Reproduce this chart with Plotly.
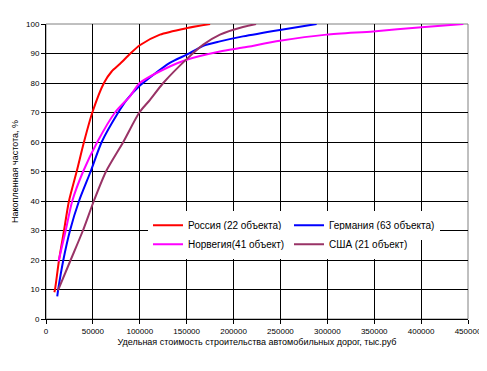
import plotly.graph_objects as go

names = ["Россия (22 объекта)", "Германия (63 объекта)", "Норвегия(41 объект)", "США (21 объект)"]
colors = ["#FF0000", "#0000FF", "#FF00FF", "#993366"]
legend_ids = ["legend", "legend2", "legend3", "legend4"]

russia_x = [8900, 9600, 13900, 19200, 24500, 32700, 40500, 49400, 61800, 70000, 79000, 90000, 100000, 121500, 150000, 175000]
russia_y = [9.1, 10, 20, 30, 40, 50, 60, 70, 80, 83.9, 86.5, 90, 92.8, 96.4, 98.6, 100]

germany_x = [12000, 13000, 18500, 25600, 35200, 47600, 59400, 77000, 86000, 98000, 132000, 150000, 167700, 185500, 210000, 249400, 288600]
germany_y = [7.7, 10, 20, 30, 40, 50, 60, 70, 74.3, 78.5, 86.8, 89.6, 92.6, 94.1, 95.8, 98, 100]

norway_x = [13300, 21000, 28000, 39600, 54700, 73600, 89500, 100000, 132000, 150000, 185500, 210000, 249400, 299000, 348900, 400500, 445000]
norway_y = [19.5, 30, 40, 50, 60, 70, 75.5, 80, 85.6, 87.9, 90.7, 92, 94.3, 96.4, 97.5, 98.9, 100]

usa_x = [12800, 26300, 39400, 51000, 64000, 82400, 99500, 110900, 125000, 150000, 167700, 185500, 210000, 224000]
usa_y = [9.7, 20, 30, 40, 50, 60, 70, 74.3, 80, 88.1, 93, 96.4, 99, 100]

x_ticks = [0, 50000, 100000, 150000, 200000, 250000, 300000, 350000, 400000, 450000]
y_ticks = [0, 10, 20, 30, 40, 50, 60, 70, 80, 90, 100]

series = [(russia_x, russia_y), (germany_x, germany_y), (norway_x, norway_y), (usa_x, usa_y)]

fig = go.Figure()
for (xs, ys), n, c, lg in zip(series, names, colors, legend_ids):
    fig.add_trace(go.Scatter(x=xs, y=ys, mode="lines", name=n, legend=lg,
                             line=dict(color=c, width=2, shape="spline", smoothing=0.7)))

fam = "Liberation Sans, Arial, sans-serif"
plot_h = 295.3
bottom = 311.3
plot_w = 422.0
left = 38.0


def leg(left_px, top_px):
    return dict(orientation="h", x=(left_px - left) / plot_w, xanchor="left",
                y=(bottom - top_px) / plot_h, yanchor="top",
                bgcolor="white", borderwidth=0,
                font=dict(family=fam, size=10, color="black"))


fig.update_layout(
    width=479, height=363,
    margin=dict(l=38, r=19, t=16, b=52, autoexpand=False),
    paper_bgcolor="white", plot_bgcolor="white",
    font=dict(family=fam, size=8, color="black"),
    showlegend=True,
    legend=leg(140, 203),
    legend2=leg(281, 203),
    legend3=leg(140, 222),
    legend4=leg(281, 222),
    xaxis=dict(range=[0, 450000], tickvals=x_ticks, ticktext=[str(v) for v in x_ticks],
               showgrid=True, gridcolor="black", gridwidth=1, zeroline=False,
               showline=True, linecolor="black", linewidth=1,
               ticks="outside", ticklen=4, tickcolor="black",
               tickfont=dict(family=fam, size=8),
               title=dict(text="Удельная стоимость строительства автомобильных дорог, тыс.руб",
                          font=dict(family=fam, size=9), standoff=4),
               automargin=False),
    yaxis=dict(range=[0, 100], tickvals=y_ticks,
               showgrid=True, gridcolor="black", gridwidth=1, zeroline=False,
               showline=True, linecolor="black", linewidth=1,
               ticks="outside", ticklen=4, tickcolor="black",
               tickfont=dict(family=fam, size=8),
               title=dict(text="Накопленная частота, %", font=dict(family=fam, size=9), standoff=5),
               automargin=False),
    shapes=[dict(type="rect", xref="paper", yref="paper", x0=0, x1=1, y0=0, y1=1,
                 line=dict(color="#808080", width=1), layer="between")],
)

fig.write_html("out.html")
